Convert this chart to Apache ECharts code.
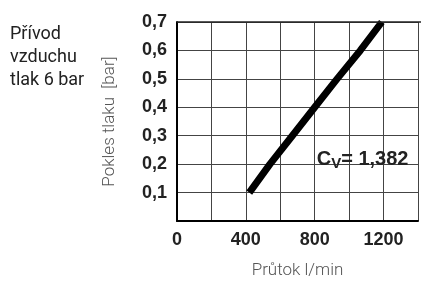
<!DOCTYPE html>
<html><head><meta charset="utf-8">
<script src="https://cdn.jsdelivr.net/npm/echarts@6/dist/echarts.min.js"></script>
<style>html,body{margin:0;padding:0;background:#fff}#c{width:421px;height:284px}</style>
</head><body><div id="c"></div>
<script>
const flow = [420, 540, 670, 800, 930, 1065, 1190];
const pressure = [0.1, 0.2, 0.3, 0.4, 0.5, 0.6, 0.7];
const xLabels = [0, 400, 800, 1200];
const yLabels = [0.1, 0.2, 0.3, 0.4, 0.5, 0.6, 0.7];
const cvText = 'C{s|V}= 1,382';
const sideText = 'Přívod\nvzduchu\ntlak 6 bar';

const chart = echarts.init(document.getElementById('c'), null, {renderer: 'canvas'});
chart.setOption({
  animation: false,
  grid: {left: 177, top: 22, width: 246, height: 210, containLabel: false},
  xAxis: {
    type: 'value', min: 0, max: 1400, interval: 200,
    name: 'Průtok l/min', nameLocation: 'middle', nameGap: 41,
    nameTextStyle: {fontFamily: 'Roboto', fontSize: 17, color: '#555', fontWeight: 300},
    axisLine: {show: true, lineStyle: {color: '#000', width: 2}},
    axisTick: {show: false},
    axisLabel: {
      fontFamily: 'Liberation Sans', fontWeight: 'bold', fontSize: 18, color: '#222', margin: 10,
      formatter: v => xLabels.includes(v) ? String(v) : ''
    },
    splitLine: {show: true, lineStyle: {color: '#444', width: 1}}
  },
  yAxis: {
    type: 'value', min: 0, max: 0.7, interval: 0.1,
    name: 'Pokles tlaku  [bar]', nameLocation: 'middle', nameGap: 59, nameRotate: 90,
    nameTextStyle: {fontFamily: 'Roboto', fontSize: 17, color: '#555', fontWeight: 300},
    axisLine: {show: true, lineStyle: {color: '#000', width: 2}},
    axisTick: {show: false},
    axisLabel: {
      fontFamily: 'Liberation Sans', fontWeight: 'bold', fontSize: 18, color: '#222', margin: 10,
      formatter: v => {
        const r = Math.round(v * 10) / 10;
        return yLabels.includes(r) ? r.toFixed(1).replace('.', ',') : '';
      }
    },
    splitLine: {show: true, lineStyle: {color: '#444', width: 1}}
  },
  graphic: [
    {type: 'text', left: 10, top: 23, style: {text: sideText, font: '400 18px Roboto', fill: '#222', lineHeight: 23}},
    {type: 'line', shape: {x1: 177, y1: 22, x2: 423, y2: 22}, style: {stroke: '#222', lineWidth: 1.5}, z: 10}
  ],
  series: [{
    type: 'line',
    data: flow.map((f, i) => [f, pressure[i]]),
    showSymbol: false,
    smooth: false,
    clip: true,
    lineStyle: {color: '#000', width: 7, cap: 'butt'},
    markPoint: {
      symbol: 'rect', symbolSize: 0,
      data: [{coord: [1078, 0.215]}],
      label: {
        show: true, position: 'inside',
        formatter: cvText,
        fontFamily: 'Liberation Sans', fontWeight: 'bold', fontSize: 20, color: '#222',
        rich: {s: {fontFamily: 'Liberation Sans', fontWeight: 'bold', fontSize: 15, color: '#222', verticalAlign: 'bottom', padding: [7, 0, 0, 0]}}
      }
    }
  }]
});
</script></body></html>
